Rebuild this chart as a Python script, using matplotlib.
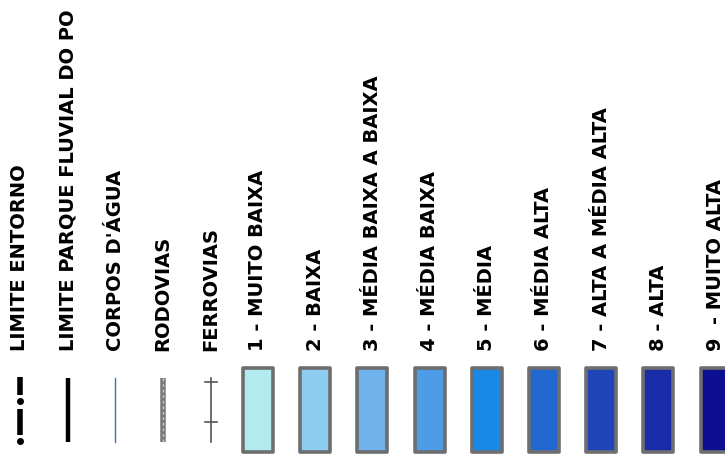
import matplotlib.pyplot as plt

# legend entries drawn as lines
line_labels = [
    "LIMITE ENTORNO",
    "LIMITE PARQUE FLUVIAL DO PO",
    "CORPOS D'ÁGUA",
    "RODOVIAS",
    "FERROVIAS",
]

# legend entries drawn as filled boxes
class_labels = [
    "1 - MUITO BAIXA",
    "2 - BAIXA",
    "3 - MÉDIA BAIXA A BAIXA",
    "4 - MÉDIA BAIXA",
    "5 - MÉDIA",
    "6 - MÉDIA ALTA",
    "7 - ALTA A MÉDIA ALTA",
    "8 - ALTA",
    "9  - MUITO ALTA",
]
class_colors = [
    "#b2ebee", "#8dcbef", "#6fb1ea", "#4e9be8", "#1a89e6",
    "#2266d0", "#1f45b8", "#1a2ba8", "#0e0e90",
]

W, H = 725, 466
fig = plt.figure(figsize=(W / 100, H / 100), dpi=100)
ax = fig.add_axes([0, 0, 1, 1])
ax.set_xlim(0, W)
ax.set_ylim(H, 0)
ax.axis("off")

text_base = 351
sym_top, sym_bot = 378, 442
line_x0, line_step = 20, 47.7
box_x0, box_step, box_w = 258, 57.2, 30
box_top, box_bot = 368, 452

font = dict(fontsize=14.0, fontweight="bold", rotation=90,
            ha="center", va="bottom", color="black", family="DejaVu Sans")

for i, lab in enumerate(line_labels):
    ax.text(line_x0 + i * line_step, text_base, lab, **font)

for i, lab in enumerate(class_labels):
    ax.text(box_x0 + i * box_step, text_base, lab, **font)

# line symbols
x = line_x0
ax.plot([x, x], [377, 395], color="black", lw=4, solid_capstyle="butt")
ax.plot([x, x], [409, 435], color="black", lw=4, solid_capstyle="butt")
ax.plot([x, x], [401, 441], "o", color="black", ms=4)

x = line_x0 + line_step
ax.plot([x, x], [sym_top, sym_bot], color="black", lw=3.2, solid_capstyle="butt")

x = line_x0 + 2 * line_step
ax.plot([x, x], [sym_top, sym_bot], color="#3f6fc0", lw=1.0)

x = line_x0 + 3 * line_step
ax.plot([x, x], [sym_top, sym_bot], color="#7a7a7a", lw=4, solid_capstyle="butt")
ax.plot([x, x], [sym_top, sym_bot], color="#c8c8c8", lw=1, ls=(0, (2, 2)))

x = line_x0 + 4 * line_step
ax.plot([x, x], [sym_top, sym_bot], color="#555555", lw=1.2)
for ty in (382, 422):
    ax.plot([x - 6, x + 6], [ty, ty], color="#555555", lw=1.2)

# class boxes
for i, c in enumerate(class_colors):
    cx = box_x0 + i * box_step
    ax.add_patch(plt.Rectangle((cx - box_w / 2, box_top), box_w, box_bot - box_top,
                               facecolor=c, edgecolor="#6e6e6e", lw=2.6,
                               joinstyle="round"))

fig.savefig("out.png", dpi=100)
